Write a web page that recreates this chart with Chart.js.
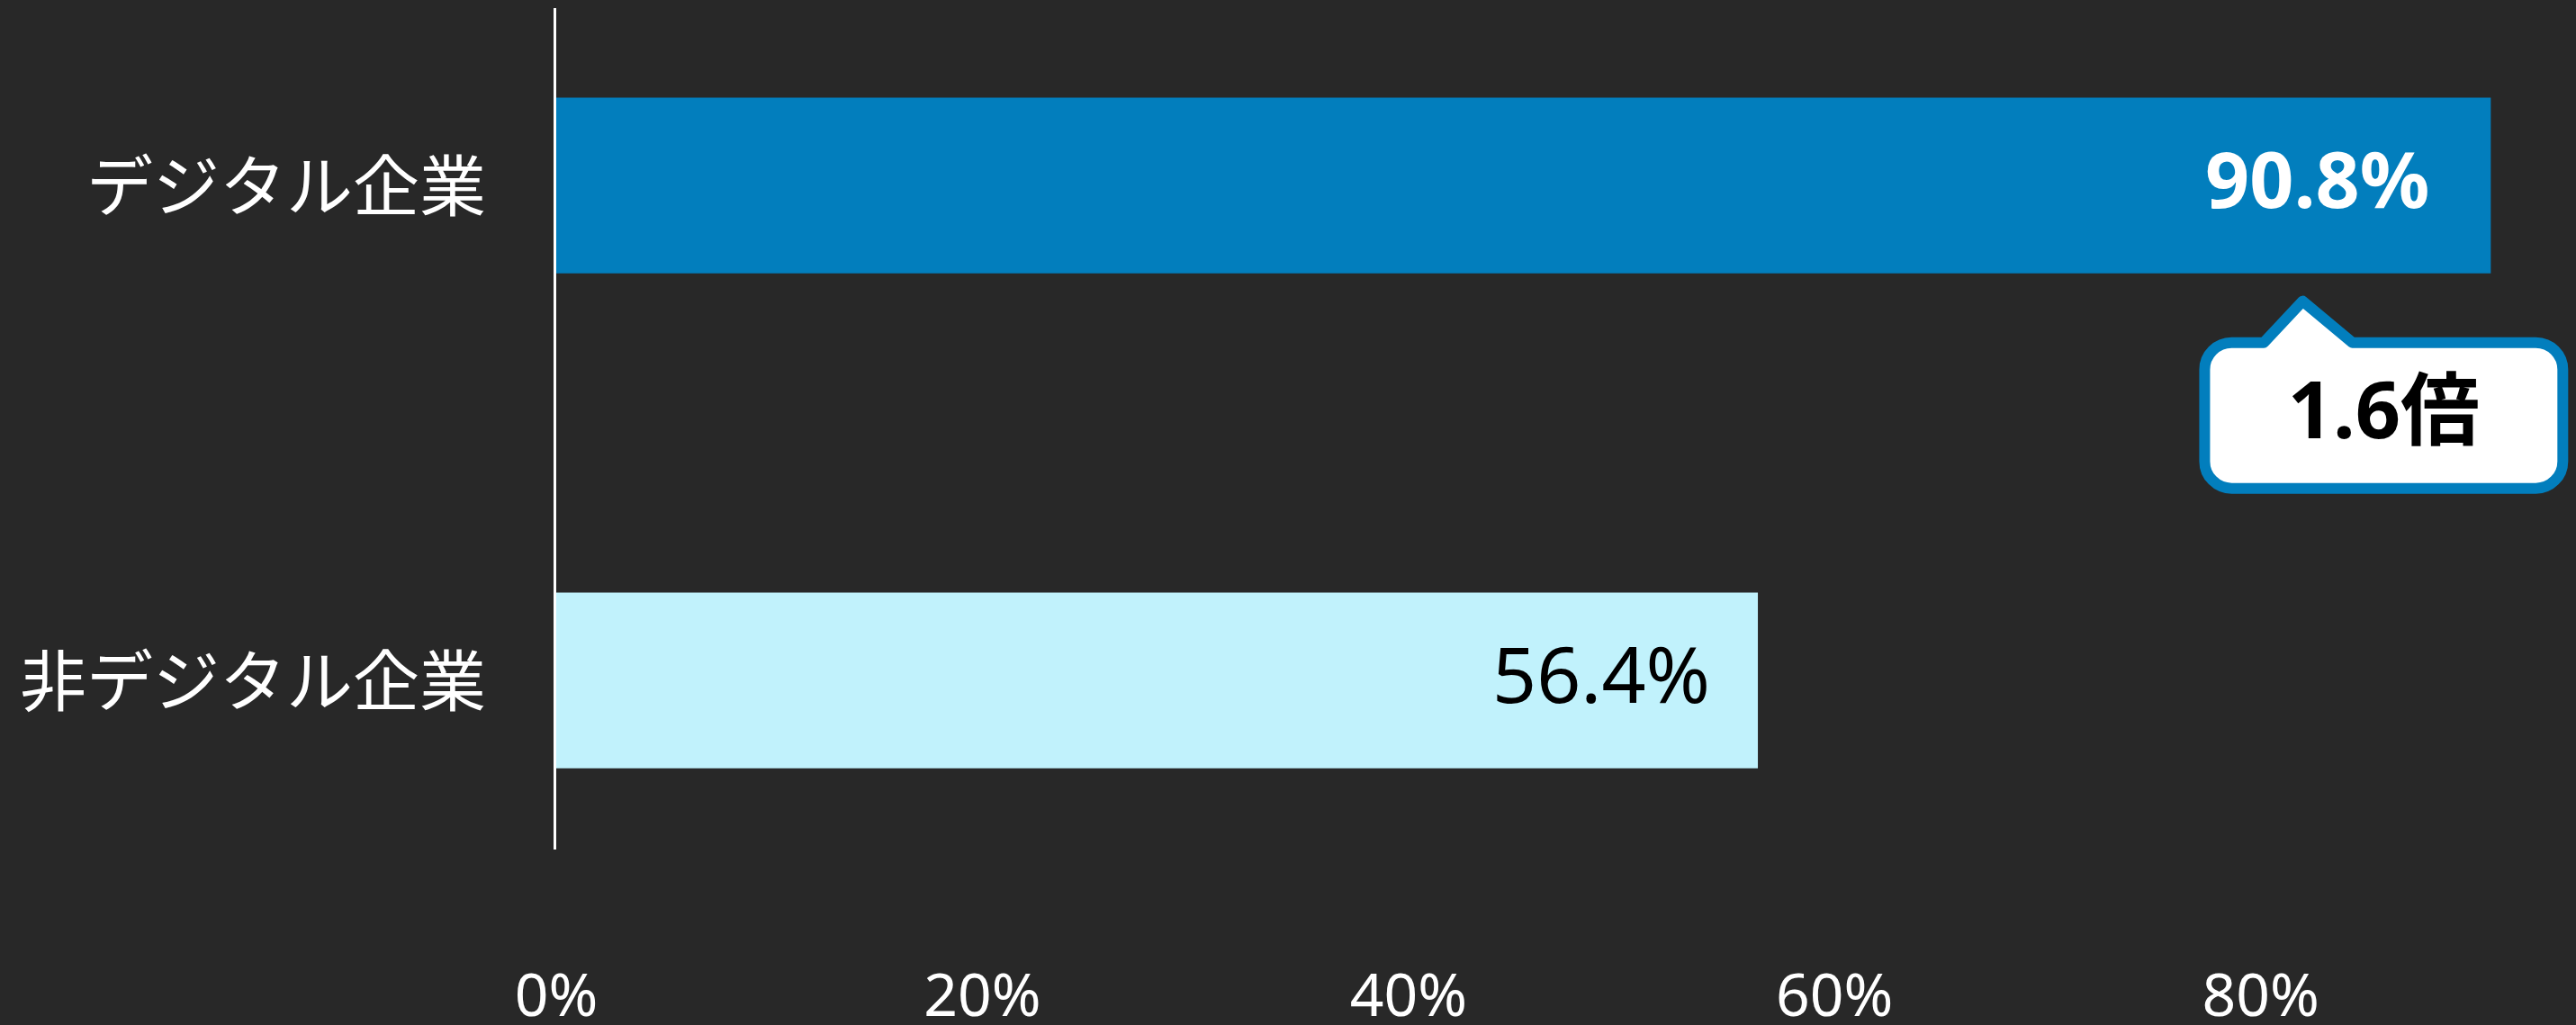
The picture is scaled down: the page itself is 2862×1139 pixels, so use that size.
<!DOCTYPE html>
<html>
<head>
<meta charset="utf-8">
<script src="https://cdn.jsdelivr.net/npm/chart.js@4"></script>
<style>
  html, body { margin: 0; padding: 0; background: #282828; }
  #wrap { width: 2862px; height: 1139px; position: relative; }
</style>
</head>
<body>
<div id="wrap"><canvas id="myChart"></canvas></div>
<script>
// Datas
const companies = ['デジタル企業', '非デジタル企業'];
const shares = [90.8, 56.4];
const barColors = ['#027EBD', '#C1F2FC'];
const labelColors = ['#FFFFFF', '#000000'];
const labelWeights = ['bold', 'normal'];
const calloutText = '1.6倍';

const FONT = "'Noto Sans', 'Noto Sans CJK JP', sans-serif";

// value labels inside the bars
const valueLabels = {
    id: 'valueLabels',
    afterDatasetsDraw(chart) {
        const ctx = chart.ctx;
        const pads = [68, 53];
        chart.getDatasetMeta(0).data.forEach((bar, i) => {
            ctx.save();
            ctx.font = labelWeights[i] + ' 86px ' + FONT;
            ctx.fillStyle = labelColors[i];
            ctx.textAlign = 'right';
            ctx.textBaseline = 'middle';
            ctx.fillText(shares[i] + '%', bar.x - pads[i], bar.y);
            ctx.restore();
        });
    }
};

// y axis line + speech bubble
const extras = {
    id: 'extras',
    afterDraw(chart) {
        const ctx = chart.ctx;
        const x = chart.scales.x, y = chart.scales.y;
        const left = chart.chartArea.left - 1.5;

        ctx.save();
        ctx.strokeStyle = '#FFFFFF';
        ctx.lineWidth = 3;
        ctx.beginPath();
        ctx.moveTo(left, y.getPixelForValue(-0.358));
        ctx.lineTo(left, y.getPixelForValue(1.342));
        ctx.stroke();

        // bubble under the first bar
        const bar = chart.getDatasetMeta(0).data[0];
        const bottom = bar.y + bar.height / 2;
        const bx1 = x.getPixelForValue(77.37), bx2 = x.getPixelForValue(94.18);
        const by1 = bottom + 77, by2 = bottom + 239;
        const tipX = x.getPixelForValue(81.97), tipY = bottom + 31;
        const baseL = x.getPixelForValue(80.15), baseR = x.getPixelForValue(84.3);
        const r = 30;
        ctx.beginPath();
        ctx.moveTo(bx1 + r, by1);
        ctx.lineTo(baseL, by1);
        ctx.lineTo(tipX, tipY);
        ctx.lineTo(baseR, by1);
        ctx.lineTo(bx2 - r, by1);
        ctx.arcTo(bx2, by1, bx2, by1 + r, r);
        ctx.lineTo(bx2, by2 - r);
        ctx.arcTo(bx2, by2, bx2 - r, by2, r);
        ctx.lineTo(bx1 + r, by2);
        ctx.arcTo(bx1, by2, bx1, by2 - r, r);
        ctx.lineTo(bx1, by1 + r);
        ctx.arcTo(bx1, by1, bx1 + r, by1, r);
        ctx.closePath();
        ctx.fillStyle = '#FFFFFF';
        ctx.fill();
        ctx.lineWidth = 12;
        ctx.lineJoin = 'round';
        ctx.strokeStyle = barColors[0];
        ctx.stroke();

        ctx.fillStyle = '#000000';
        ctx.font = 'bold 88px ' + FONT;
        ctx.textAlign = 'center';
        ctx.textBaseline = 'middle';
        ctx.fillText(calloutText, (bx1 + bx2) / 2, (by1 + by2) / 2);
        ctx.restore();
    }
};

// the chart
const myChart = new Chart('myChart', {
    type: 'bar',
    data: {
        labels: companies,
        datasets: [{
            data: shares,
            backgroundColor: barColors,
            borderWidth: 0,
            barPercentage: 0.355,
            categoryPercentage: 1,
            clip: false
        }]
    },
    options: {
        indexAxis: 'y',
        responsive: true,
        maintainAspectRatio: false,
        animation: false,
        layout: { padding: { top: 206, right: 0, bottom: 0, left: 0 } },
        plugins: {
            legend: { display: false },
            tooltip: { enabled: false }
        },
        scales: {
            x: {
                min: 0,
                max: 94.8,
                grid: { display: false, drawTicks: true, tickLength: 300 },
                border: { display: false },
                ticks: {
                    stepSize: 20,
                    includeBounds: false,
                    padding: 15,
                    color: '#FFFFFF',
                    font: { family: FONT, size: 66 },
                    callback: v => v + '%'
                },
                afterFit: s => { s.height = 383; }
            },
            y: {
                offset: false,
                grid: { display: false, drawTicks: false },
                border: { display: false },
                ticks: {
                    padding: 78,
                    color: '#FFFFFF',
                    font: { family: "'Noto Sans CJK JP', sans-serif", size: 74 }
                },
                afterFit: s => { s.width = 618; }
            }
        }
    },
    plugins: [valueLabels, extras]
});
</script>
</body>
</html>
